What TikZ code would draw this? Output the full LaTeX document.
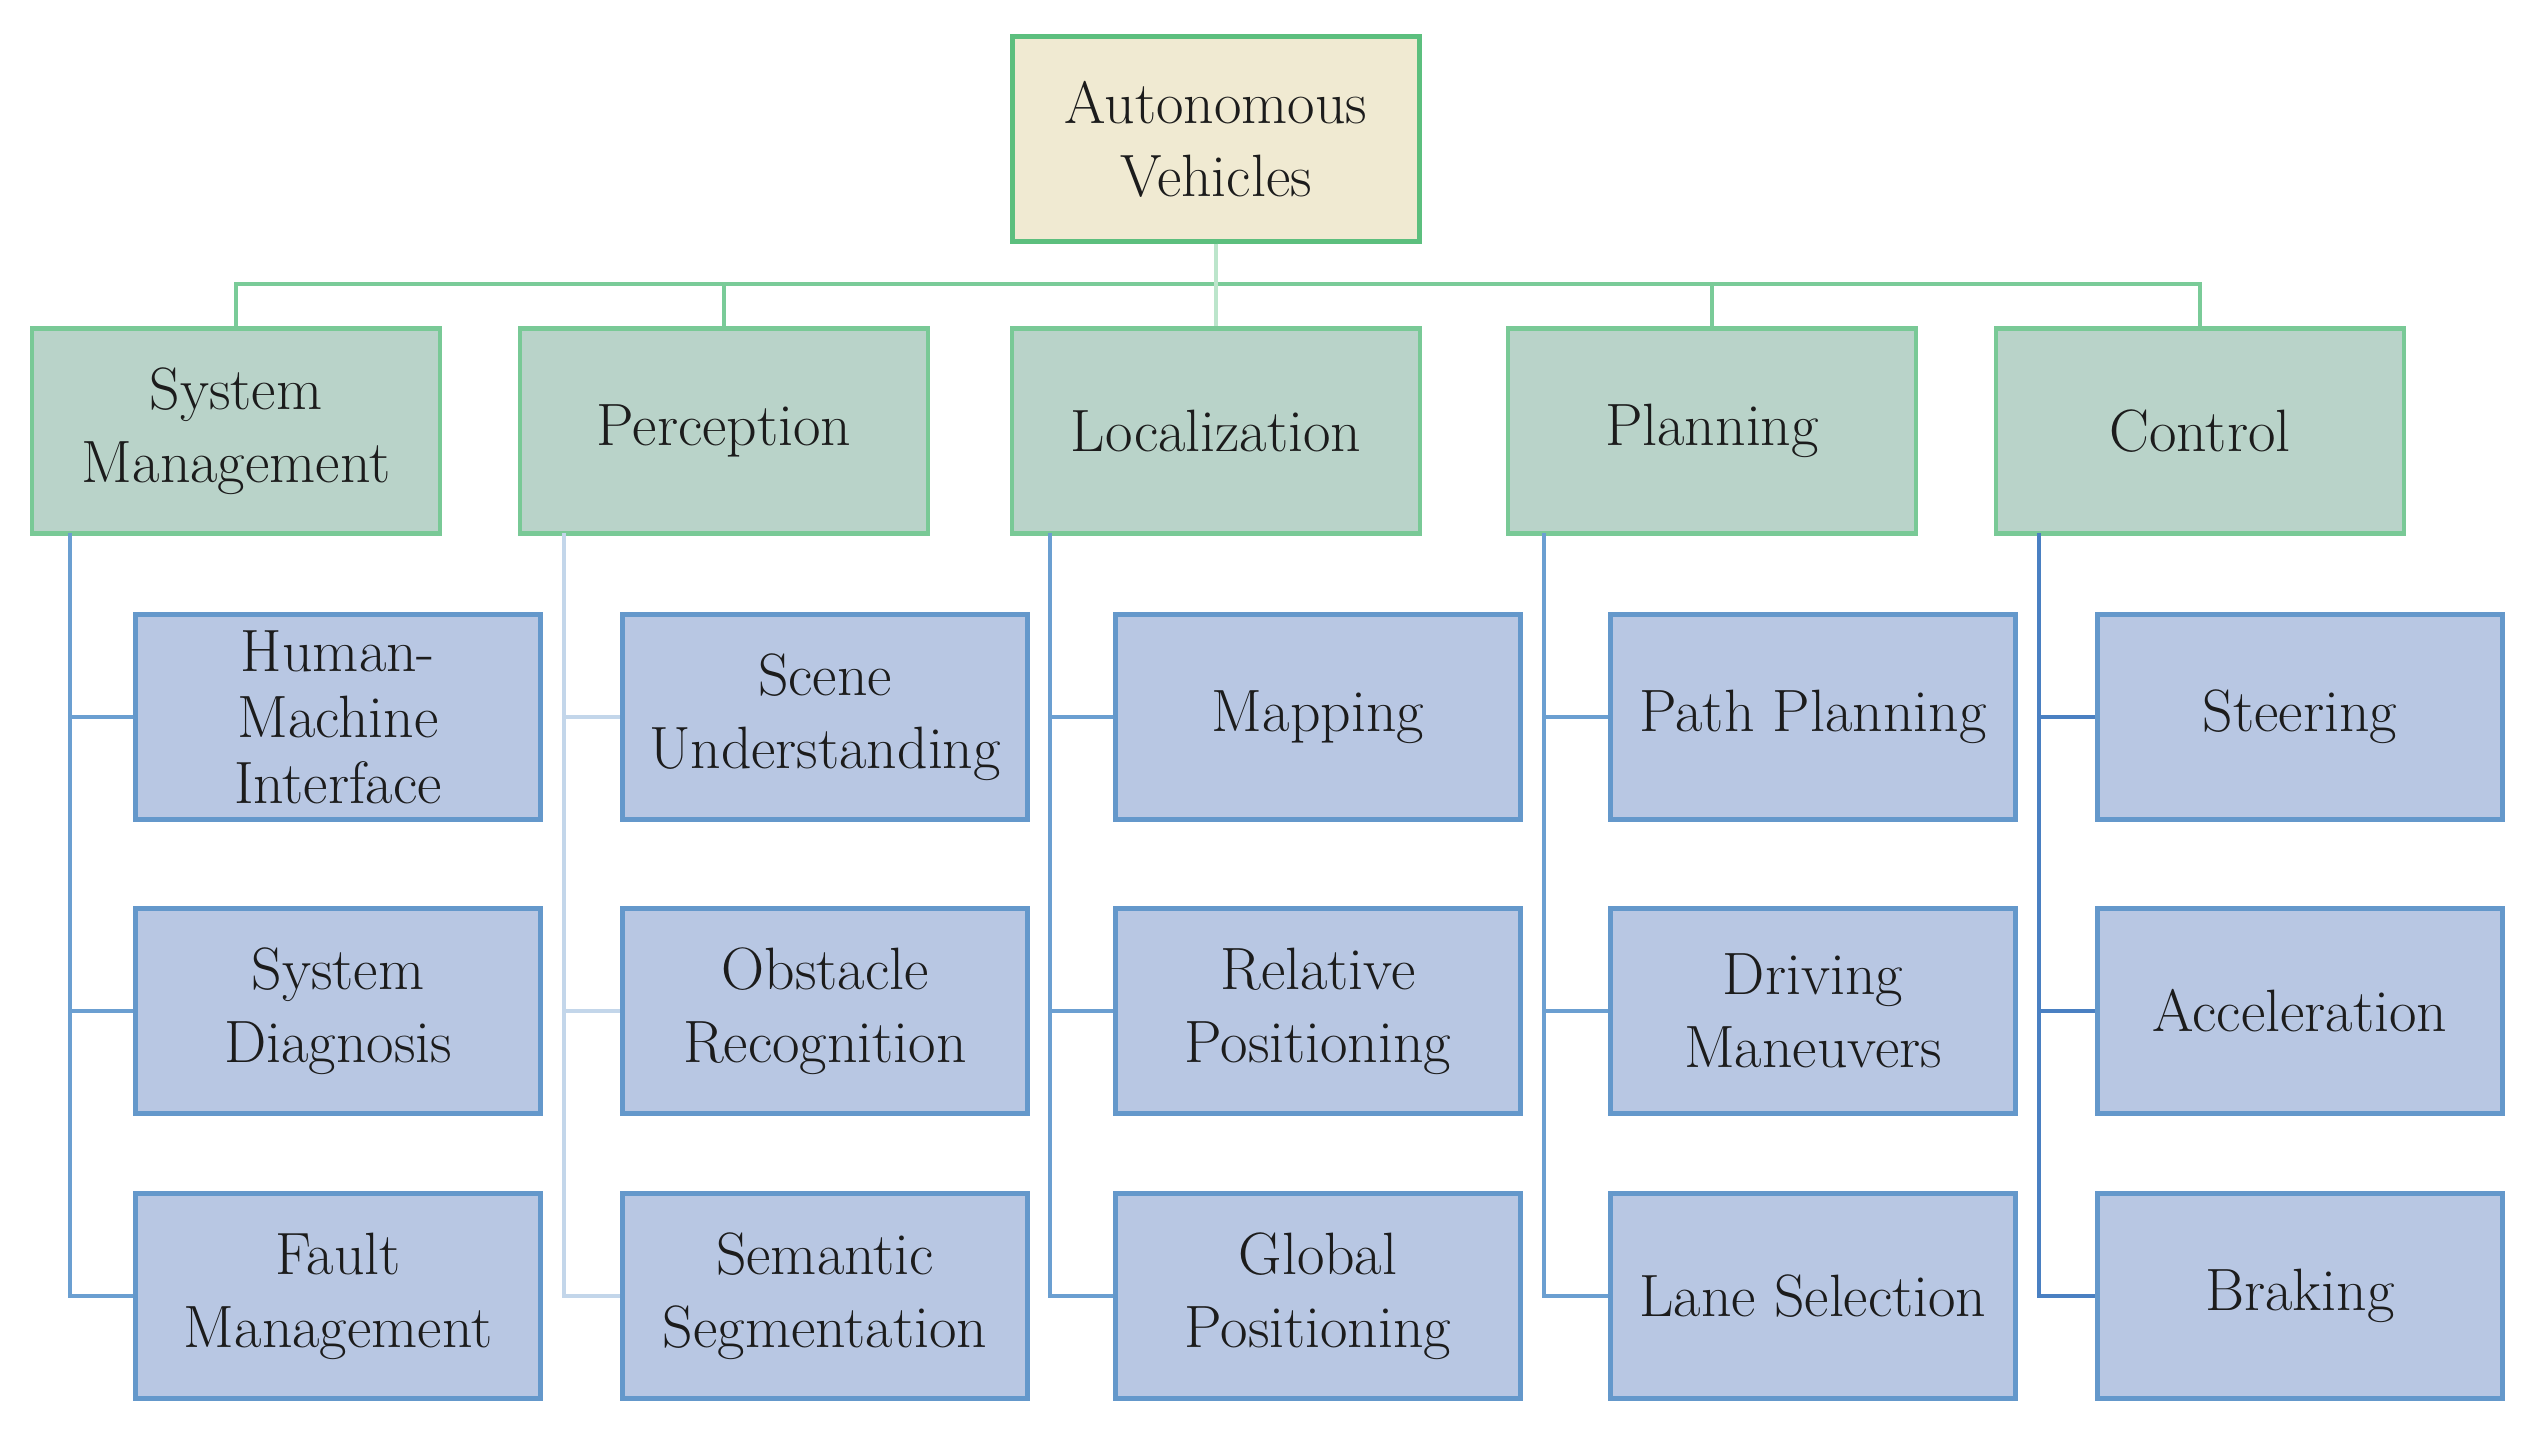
\documentclass[tikz,border=0pt]{standalone}
\usetikzlibrary{graphs}
\definecolor{avfill}{HTML}{F0EAD2}
\definecolor{avdraw}{HTML}{5CBF7E}
\definecolor{grpfill}{HTML}{B9D3C9}
\definecolor{grpdraw}{HTML}{79C996}
\definecolor{leaffill}{HTML}{B8C7E3}
\definecolor{leafdraw}{HTML}{6498CB}
\definecolor{gline}{HTML}{7ACB98}
\definecolor{pgline}{HTML}{BCE5CB}
\definecolor{bline}{HTML}{6B9FD1}
\definecolor{pbline}{HTML}{C3D6EA}
\definecolor{dbline}{HTML}{4A80C2}
\definecolor{ink}{HTML}{1C1C1C}
\tikzset{
  box/.style= {draw, line width=1.2pt, minimum height=2.05cm, inner sep=0,
    align=center, text=ink, font=\fontsize{17}{20.7}\selectfont},
  root/.style= {box, fill=avfill, draw=avdraw, minimum width=4.07cm},
  group/.style= {box, fill=grpfill, draw=grpdraw, minimum width=4.08cm},
  leaf/.style= {box, fill=leaffill, draw=leafdraw, minimum width=4.05cm},
  gwire/.style= {draw=gline, line width=1pt},
  bwire/.style= {draw=bline, line width=1pt},
}

\begin{document}
\begin{tikzpicture}
  \useasboundingbox (0,0) rectangle (25.26,14.29);

  \node [root] (av) at (12.16,12.9) {Autonomous\\Vehicles} ;
  \node [group] (sm) at (2.36,9.98) {System\\Management} ;
  \node [group] (pe) at (7.24,9.98) {Perception} ;
  \node [group] (lo) at (12.16,9.98) {Localization} ;
  \node [group] (pl) at (17.12,9.98) {Planning} ;
  \node [group] (co) at (22.00,9.98) {Control} ;

  \node [leaf, font=\fontsize{17}{18.8}\selectfont] (hmi) at (3.38,7.12) {Human-\\Machine\\Interface} ;
  \node [leaf] (sd) at (3.38,4.18) {System\\Diagnosis} ;
  \node [leaf] (fm) at (3.38,1.33) {Fault\\Management} ;
  \node [leaf] (su) at (8.25,7.12) {Scene\\Understanding} ;
  \node [leaf] (or) at (8.25,4.18) {Obstacle\\Recognition} ;
  \node [leaf] (ss) at (8.25,1.33) {Semantic\\Segmentation} ;
  \node [leaf] (ma) at (13.18,7.12) {Mapping} ;
  \node [leaf] (rp) at (13.18,4.18) {Relative\\Positioning} ;
  \node [leaf] (gp) at (13.18,1.33) {Global\\Positioning} ;
  \node [leaf] (pp) at (18.13,7.12) {Path Planning} ;
  \node [leaf] (dm) at (18.13,4.18) {Driving\\Maneuvers} ;
  \node [leaf] (ls) at (18.13,1.33) {Lane Selection} ;
  \node [leaf] (st) at (23.00,7.12) {Steering} ;
  \node [leaf] (ac) at (23.00,4.18) {Acceleration} ;
  \node [leaf] (br) at (23.00,1.33) {Braking} ;

  \coordinate (bus) at (12.16,11.45) ;
  \coordinate (smt) at (0.70,8.955) ;
  \coordinate (pet) at (5.64,8.955) ;
  \coordinate (lot) at (10.50,8.955) ;
  \coordinate (plt) at (15.44,8.955) ;
  \coordinate (cot) at (20.39,8.955) ;

  \graph [edges={gwire, to path={-- (\tikztostart |- bus) -| (\tikztotarget) \tikztonodes}}] {
    (av) -- {(sm), (pe), (pl), (co)} ;
  } ;
  \draw [draw=pgline, line width=1pt] (av) -- (lo) ;

  \graph [edges={bwire, to path={|- (\tikztotarget) \tikztonodes}}] {
    (smt) -- {(hmi), (sd), (fm)} ;
    (pet) --[draw=pbline] {(su), (or), (ss)} ;
    (lot) -- {(ma), (rp), (gp)} ;
    (plt) -- {(pp), (dm), (ls)} ;
    (cot) --[draw=dbline] {(st), (ac), (br)} ;
  } ;
\end{tikzpicture}
\end{document}
